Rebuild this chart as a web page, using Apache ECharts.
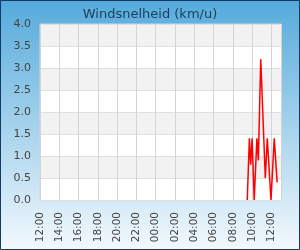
<!DOCTYPE html>
<html><head><meta charset="utf-8">
<script src="https://cdn.jsdelivr.net/npm/echarts@6/dist/echarts.min.js"></script>
<style>html,body{margin:0;padding:0;}#c{width:300px;height:250px;}</style>
</head><body><div id="c"></div>
<script>
// hours after 12:00 on the first day
const times = [21.5, 21.72, 21.85, 22.0, 22.22, 22.5, 22.65, 22.9, 23.07, 23.37, 23.58, 23.78, 23.96, 24.1, 24.3, 24.6];
const windSpeed = [0, 1.4, 0.8, 1.4, 0, 1.4, 0.9, 3.2, 3.2, 0.5, 1.4, 1.4, 0, 0, 1.4, 0.4];
const xTickLabels = ['12:00','14:00','16:00','18:00','20:00','22:00','00:00','02:00','04:00','06:00','08:00','10:00','12:00'];
const yTicks = [0, 0.5, 1, 1.5, 2, 2.5, 3, 3.5, 4];
const titleText = 'Windsnelheid (km/u)';

const chart = echarts.init(document.getElementById('c'));
const font = 'DejaVu Sans';
chart.setOption({
  animation: false,
  backgroundColor: {type:'linear', x:0, y:0, x2:0, y2:1, colorStops:[{offset:0,color:'#55aadb'},{offset:1,color:'#f3f9fd'}]},
  title: {text: titleText, left: 'center', top: 3, textStyle:{fontFamily:font, fontSize:13, fontWeight:'normal', color:'#1c3d5c'}},
  graphic: [{type:'rect', shape:{x:0.5,y:0.5,width:299,height:249}, style:{fill:'none', stroke:'#0f3b69', lineWidth:1}, z:100}],
  grid: {left:40, right:19, top:24, bottom:50, show:true, backgroundColor:'#ffffff', borderColor:'#d4d4d4', borderWidth:1},
  xAxis: {
    type:'value', min:0, max:25, interval:2,
    axisLine:{show:false}, axisTick:{show:false},
    splitLine:{show:true, lineStyle:{color:'#d4d4d4', width:1}},
    axisLabel:{rotate:90, margin:12, showMaxLabel:false, fontFamily:font, fontSize:10.5, color:'#444',
      formatter: v => xTickLabels[Math.round(v/2)] || ''}
  },
  yAxis: {
    type:'value', min:yTicks[0], max:yTicks[yTicks.length-1], interval:0.5,
    axisLine:{show:false}, axisTick:{show:false},
    splitLine:{show:true, lineStyle:{color:'#dedede', width:1}},
    splitArea:{show:true, areaStyle:{color:['#ffffff','#f2f2f2']}},
    axisLabel:{margin:9, fontFamily:font, fontSize:11, color:'#444', formatter: v => v.toFixed(1)}
  },
  series: [{
    type:'line', data: times.map((t,i)=>[t, windSpeed[i]]),
    showSymbol:false, lineStyle:{color:'#ff0000', width:1.5}, itemStyle:{color:'#ff0000'}
  }]
});
</script></body></html>
